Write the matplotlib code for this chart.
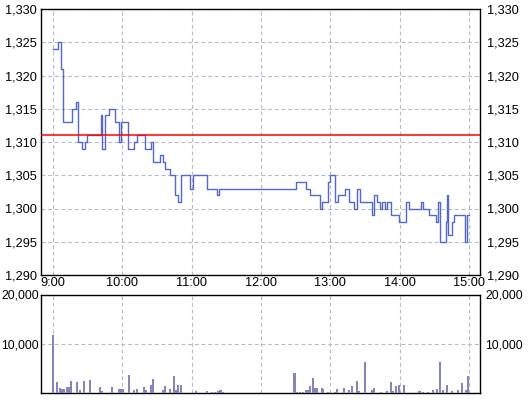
import matplotlib
matplotlib.use("Agg")
import matplotlib.pyplot as plt
from matplotlib.transforms import ScaledTranslation

# ---- data (minutes after 9:00) ----
price_times = [0, 5, 7, 9, 17, 20, 22, 25, 28, 30, 42, 43, 45, 49, 54, 57, 59, 65, 70, 73,
               80, 85, 87, 93, 95, 97, 101, 106, 108, 111, 119, 121, 133, 142, 144, 210,
               219, 222, 231, 233, 238, 240, 244, 247, 253, 256, 260, 263, 266, 276, 278,
               280, 283, 285, 287, 289, 292, 299, 305, 308, 318, 320, 325, 331, 333, 335,
               340, 341, 342, 345, 347, 356, 358, 360]
price_values = [1324, 1325, 1321, 1313, 1315, 1316, 1310, 1309, 1310, 1311, 1314, 1309, 1314,
                1315, 1313, 1310, 1313, 1309, 1310, 1311, 1309, 1310, 1307, 1308, 1307, 1306,
                1305, 1302, 1301, 1305, 1303, 1305, 1303, 1302, 1303, 1304, 1303, 1302, 1300,
                1301, 1304, 1305, 1301, 1302, 1303, 1301, 1300, 1303, 1301, 1299, 1302, 1301,
                1300, 1301, 1300, 1301, 1299, 1298, 1301, 1300, 1301, 1300, 1299, 1298, 1301,
                1295, 1298, 1302, 1296, 1298, 1299, 1295, 1299, 1299]
prev_close = 1311

vol_times = [0, 4, 6, 8, 10, 12, 14, 16, 21, 24, 27, 32, 41, 43, 51, 57, 59, 61, 66, 70, 73,
             79, 81, 85, 87, 95, 97, 101, 105, 107, 108, 111, 124, 133, 138, 140, 143, 145,
             147, 209, 211, 214, 216, 219, 221, 222, 225, 227, 228, 233, 234, 238, 244, 246,
             252, 256, 259, 263, 265, 270, 276, 278, 284, 289, 292, 294, 297, 299, 304, 317,
             320, 324, 329, 332, 335, 337, 341, 345, 350, 354, 357, 359]
vol_values = [11800, 2200, 1000, 750, 850, 1150, 1200, 2500, 2300, 700, 2500, 2700, 1300, 450,
              1300, 900, 800, 800, 3700, 700, 850, 1300, 700, 1700, 2900, 600, 1500, 750, 3500,
              550, 1700, 1700, 500, 500, 250, 250, 500, 700, 300, 4100, 200, 200, 200, 600, 700,
              1500, 3100, 1000, 1000, 1000, 800, 200, 200, 800, 1000, 700, 1500, 2500, 500,
              6350, 700, 1000, 200, 500, 2300, 400, 1350, 1700, 1700, 400, 200, 300, 700, 800,
              6200, 550, 1700, 400, 700, 2100, 550, 3500]

hour_ticks = [0, 60, 120, 180, 240, 300, 360]
hour_labels = ["9:00", "10:00", "11:00", "12:00", "13:00", "14:00", "15:00"]
price_ticks = [1290, 1295, 1300, 1305, 1310, 1315, 1320, 1325, 1330]
vol_ticks = [10000, 20000]

FONT = "Liberation Sans"
FS = 9.2
GRID = dict(color="#b3bbcc", linestyle=(0, (3.5, 2.5)), linewidth=0.8)

W, H = 528, 399
fig = plt.figure(figsize=(W / 100, H / 100), dpi=100)
ax1 = fig.add_axes([41 / W, (H - 275) / H, (480 - 41) / W, (275 - 9) / H])
ax2 = fig.add_axes([41 / W, (H - 393) / H, (480 - 41) / W, (393 - 294.5) / H])

xlim = (-10.1, 369.3)

# price panel
ax1.step(price_times, price_values, where="post", color="#5468cc", linewidth=1.0, zorder=3)
ax1.axhline(prev_close, color="#ff0000", linewidth=1.1, zorder=4)
ax1.set_xlim(*xlim)
ax1.set_ylim(1290, 1330)
ax1.set_xticks(hour_ticks)
ax1.set_xticklabels(hour_labels)
ax1.set_yticks(price_ticks)
ax1.set_yticklabels([f"{v:,}" for v in price_ticks])
ax1.grid(True, **GRID)
ax1.tick_params(length=0, labelsize=FS, labelright=True, pad=3)
ax1.tick_params(axis="x", pad=1.5)

# volume panel
ax2.bar(vol_times, vol_values, width=1.8, color="#8585bd", linewidth=0, zorder=3)
ax2.set_xlim(*xlim)
ax2.set_ylim(0, 20000)
ax2.set_xticks(hour_ticks)
ax2.set_xticklabels([])
ax2.set_yticks(vol_ticks)
ax2.set_yticklabels([f"{v:,}" for v in vol_ticks])
ax2.grid(True, **GRID)
ax2.tick_params(length=0, labelsize=8.7, labelright=True, pad=1.5)

for ax in (ax1, ax2):
    ax.set_axisbelow(True)
    for s in ax.spines.values():
        s.set_color("black")
        s.set_linewidth(1.0)
    for lab in ax.get_xticklabels() + ax.get_yticklabels():
        lab.set_fontfamily(FONT)
        lab.set_color("black")
    # nudge right-side labels a little further from the frame, as in the reference
    shift = ScaledTranslation(3 / 100, 0, fig.dpi_scale_trans)
    for tick in ax.yaxis.get_major_ticks():
        tick.label2.set_transform(tick.label2.get_transform() + shift)
        tick.label2.set_fontfamily(FONT)

fig.savefig("out.png", dpi=100)
